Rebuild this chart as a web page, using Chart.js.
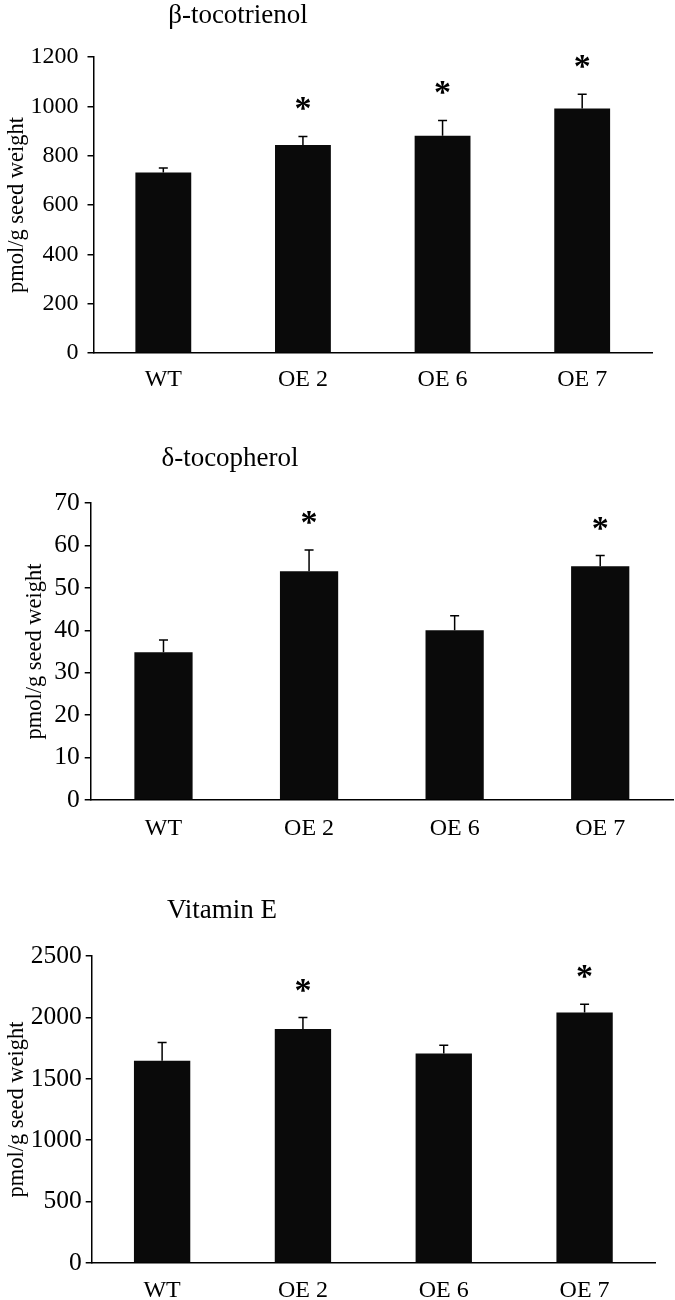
<!DOCTYPE html>
<html>
<head>
<meta charset="utf-8">
<script src="https://cdn.jsdelivr.net/npm/chart.js@4/dist/chart.umd.min.js"></script>
<style>
  html, body { margin: 0; padding: 0; background: #ffffff; }
  body { width: 675px; height: 1300px; position: relative; overflow: hidden; }
  canvas { position: absolute; left: 0; display: block; }
</style>
</head>
<body>
<canvas id="c1" width="675" height="430" style="top:0px"></canvas>
<canvas id="c2" width="675" height="440" style="top:430px"></canvas>
<canvas id="c3" width="675" height="430" style="top:870px"></canvas>
<script>
// ---------- data ----------
const categories = ['WT', 'OE 2', 'OE 6', 'OE 7'];

const tocotrienolTitle = 'β-tocotrienol';
const tocotrienolMeans = [732, 843, 881, 991];
const tocotrienolErrors = [18, 35, 62, 58];
const tocotrienolSignificant = [false, true, true, true];
const tocotrienolTicks = [0, 200, 400, 600, 800, 1000, 1200];

const tocopherolTitle = 'δ-tocopherol';
const tocopherolMeans = [34.8, 53.9, 40.0, 55.1];
const tocopherolErrors = [2.9, 5.0, 3.4, 2.5];
const tocopherolSignificant = [false, true, false, true];
const tocopherolTicks = [0, 10, 20, 30, 40, 50, 60, 70];

const vitaminETitle = 'Vitamin E';
const vitaminEMeans = [1646, 1906, 1706, 2039];
const vitaminEErrors = [149, 93, 68, 68];
const vitaminESignificant = [false, true, false, true];
const vitaminETicks = [0, 500, 1000, 1500, 2000, 2500];

const yAxisTitle = 'pmol/g seed weight';
const SERIF = '"Liberation Serif", "Times New Roman", Times, serif';

// ---------- plugins ----------
const errorBarPlugin = {
  id: 'errorBars',
  afterDatasetsDraw(chart, args, opts) {
    const ctx = chart.ctx;
    const y = chart.scales.y;
    const meta = chart.getDatasetMeta(0);
    const means = chart.data.datasets[0].data;
    ctx.save();
    ctx.strokeStyle = '#000';
    ctx.lineWidth = 1.5;
    meta.data.forEach((bar, i) => {
      const top = y.getPixelForValue(means[i] + opts.errors[i]);
      const base = y.getPixelForValue(means[i]);
      ctx.beginPath();
      ctx.moveTo(bar.x, base);
      ctx.lineTo(bar.x, top);
      ctx.moveTo(bar.x - 4.5, top);
      ctx.lineTo(bar.x + 4.5, top);
      ctx.stroke();
      if (opts.significant[i]) {
        ctx.fillStyle = '#000';
        ctx.font = 'bold 34px ' + SERIF;
        ctx.textAlign = 'center';
        ctx.textBaseline = 'alphabetic';
        const cy = top - 35;
        ctx.fillText('*', bar.x, cy + 18);
      }
    });
    ctx.restore();
  }
};

const panelTitlePlugin = {
  id: 'panelTitle',
  afterDraw(chart, args, opts) {
    const ctx = chart.ctx;
    ctx.save();
    ctx.fillStyle = '#000';
    ctx.font = '27px ' + SERIF;
    ctx.textAlign = 'center';
    ctx.textBaseline = 'middle';
    ctx.fillText(opts.text, opts.x, opts.y);
    ctx.restore();
  }
};

function makeChart(id, cfg) {
  const ticks = cfg.ticks;
  return new Chart(document.getElementById(id), {
    type: 'bar',
    data: {
      labels: categories,
      datasets: [{
        data: cfg.means,
        backgroundColor: '#0a0a0a',
        borderWidth: 0,
        barPercentage: 0.4,
        categoryPercentage: 1.0
      }]
    },
    plugins: [errorBarPlugin, panelTitlePlugin],
    options: {
      responsive: false,
      devicePixelRatio: 1,
      animation: false,
      events: [],
      layout: { padding: cfg.padding },
      plugins: {
        legend: { display: false },
        tooltip: { enabled: false },
        title: { display: false },
        errorBars: { errors: cfg.errors, significant: cfg.significant },
        panelTitle: { text: cfg.title, x: cfg.titleX, y: cfg.titleY }
      },
      scales: {
        x: {
          offset: true,
          grid: { display: false, drawTicks: false },
          border: { display: true, color: '#000', width: 1.5 },
          ticks: {
            color: '#000',
            padding: cfg.xPad,
            maxRotation: 0,
            font: { family: SERIF, size: 24 }
          },
          afterFit(scale) { scale.height = cfg.xHeight; }
        },
        y: {
          min: ticks[0],
          max: ticks[ticks.length - 1],
          afterBuildTicks(scale) { scale.ticks = ticks.map(v => ({ value: v })); },
          grid: {
            display: true,
            drawOnChartArea: false,
            drawTicks: true,
            tickLength: 6,
            color: '#000',
            lineWidth: 1.5
          },
          border: { display: true, color: '#000', width: 1.5 },
          ticks: {
            color: '#000',
            padding: cfg.yPad,
            font: { family: SERIF, size: cfg.yFont },
            callback: (v) => String(v)
          },
          title: {
            display: true,
            text: yAxisTitle,
            color: '#000',
            padding: { top: cfg.yTitlePad, bottom: 0 },
            font: { family: SERIF, size: 22.5 }
          },
          afterFit(scale) { scale.width = cfg.yWidth; }
        }
      }
    }
  });
}

makeChart('c1', {
  title: tocotrienolTitle, titleX: 238, titleY: 16,
  means: tocotrienolMeans, errors: tocotrienolErrors,
  significant: tocotrienolSignificant, ticks: tocotrienolTicks,
  padding: { left: 0, top: 57, right: 23, bottom: 27 },
  yWidth: 93.5, xHeight: 50, xPad: 12, yPad: 9, yTitlePad: 4, yFont: 24
});

makeChart('c2', {
  title: tocopherolTitle, titleX: 230, titleY: 29,
  means: tocopherolMeans, errors: tocopherolErrors,
  significant: tocopherolSignificant, ticks: tocopherolTicks,
  padding: { left: 0, top: 73, right: 2, bottom: 20 },
  yWidth: 90.7, xHeight: 50, xPad: 14, yPad: 5, yTitlePad: 22, yFont: 25.5
});

makeChart('c3', {
  title: vitaminETitle, titleX: 222, titleY: 41,
  means: vitaminEMeans, errors: vitaminEErrors,
  significant: vitaminESignificant, ticks: vitaminETicks,
  padding: { left: 0, top: 86, right: 20, bottom: 0 },
  yWidth: 91.7, xHeight: 37, xPad: 13, yPad: 4, yTitlePad: 4, yFont: 25.5
});
</script>
</body>
</html>
